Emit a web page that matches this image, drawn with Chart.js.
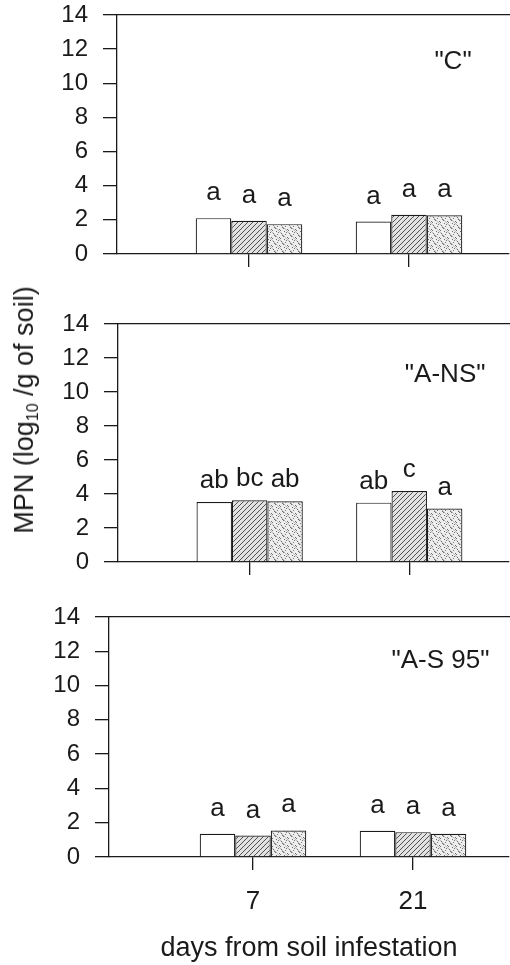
<!DOCTYPE html>
<html><head><meta charset="utf-8">
<script src="https://cdn.jsdelivr.net/npm/chart.js@4.4.1/dist/chart.umd.min.js"></script>
<style>
html,body{margin:0;padding:0;background:#fff;width:510px;height:965px;overflow:hidden}
.p{position:absolute;left:0;width:510px}
#ytitle{position:absolute;left:26px;top:410px;transform:translate(-50%,-50%) rotate(-90deg);
  white-space:nowrap;font-family:"Liberation Sans",Arial,sans-serif;font-size:27px;color:#1a1a1a;line-height:1}
#ytitle sub{font-size:16px;vertical-align:-5px}
</style></head><body>
<div class="p" style="top:0;height:300px"><canvas id="c1"></canvas></div>
<div class="p" style="top:300px;height:300px"><canvas id="c2"></canvas></div>
<div class="p" style="top:600px;height:365px"><canvas id="c3"></canvas></div>
<div id="ytitle">MPN (log<sub>10</sub> /g of soil)</div>
<script>
// ---- data ----
const days = [7, 21];
const yTicks = [0, 2, 4, 6, 8, 10, 12, 14];
const panelNames = ['"C"', '"A-NS"', '"A-S 95"'];
// panel "C"
const cOpen  = [2.1, 1.9];
const cHatch = [1.95, 2.3];
const cDot   = [1.75, 2.27];
const cOpenL = ['a', 'a'], cHatchL = ['a', 'a'], cDotL = ['a', 'a'];
// panel "A-NS"
const nsOpen  = [3.53, 3.49];
const nsHatch = [3.63, 4.18];
const nsDot   = [3.57, 3.14];
const nsOpenL = ['ab', 'ab'], nsHatchL = ['bc', 'c'], nsDotL = ['ab', 'a'];
// panel "A-S 95"
const sOpen  = [1.35, 1.53];
const sHatch = [1.25, 1.45];
const sDot   = [1.55, 1.35];
const sOpenL = ['a', 'a'], sHatchL = ['a', 'a'], sDotL = ['a', 'a'];

// ---- styles ----
const FONT = '"Liberation Sans", Arial, sans-serif';
const INK = '#1a1a1a';

function hatchPattern() {
  const c = document.createElement('canvas'); c.width = 5; c.height = 5;
  const g = c.getContext('2d');
  g.fillStyle = '#e2e2e2'; g.fillRect(0, 0, 5, 5);
  g.strokeStyle = '#505050'; g.lineWidth = 1;
  g.beginPath(); g.moveTo(-1, 6); g.lineTo(6, -1); g.moveTo(-1, 1); g.lineTo(1, -1); g.moveTo(4, 6); g.lineTo(6, 4); g.stroke();
  return g.createPattern(c, 'repeat');
}
function dotPattern() {
  const c = document.createElement('canvas'); c.width = 8; c.height = 8;
  const g = c.getContext('2d');
  g.fillStyle = '#eeeeee'; g.fillRect(0, 0, 8, 8);
  g.fillStyle = '#707070';
  [[1,1],[5,2],[3,4],[7,5],[0,6],[4,7],[6,0],[2,3]].forEach(p => g.fillRect(p[0], p[1], 1, 1));
  g.strokeStyle = 'rgba(90,90,90,0.45)'; g.lineWidth = 0.8;
  g.beginPath(); g.moveTo(0, 0); g.lineTo(8, 8); g.stroke();
  return g.createPattern(c, 'repeat');
}

const textPlugin = {
  id: 'panelText',
  afterDatasetsDraw(chart, args, opts) {
    const ctx = chart.ctx;
    ctx.save();
    ctx.fillStyle = INK;
    ctx.textAlign = 'center';
    ctx.textBaseline = 'alphabetic';
    ctx.font = '26px ' + FONT;
    chart.data.datasets.forEach((ds, i) => {
      chart.getDatasetMeta(i).data.forEach((bar, j) => {
        ctx.fillText(ds.letters[j], bar.x, bar.y - opts.gap);
      });
    });
    ctx.font = '26px ' + FONT;
    ctx.textBaseline = 'middle';
    const xs = chart.scales.x, ys = chart.scales.y;
    ctx.fillText(opts.name, xs.getPixelForValue(opts.nameX), ys.getPixelForValue(opts.nameY));
    ctx.restore();
  }
};

function makePanel(id, open, hatch, dot, openL, hatchL, dotL, cfg) {
  const pts = v => days.map((d, i) => ({ x: d, y: v[i] }));
  const common = { borderColor: INK, borderWidth: 1.2, borderSkipped: 'start', barPercentage: 1, categoryPercentage: 0.666 };
  new Chart(document.getElementById(id), {
    type: 'bar',
    data: {
      datasets: [
        Object.assign({ data: pts(open), letters: openL, backgroundColor: '#ffffff' }, common),
        Object.assign({ data: pts(hatch), letters: hatchL, backgroundColor: hatchPattern() }, common),
        Object.assign({ data: pts(dot), letters: dotL, backgroundColor: dotPattern() }, common)
      ]
    },
    options: {
      responsive: true, maintainAspectRatio: false, animation: false,
      layout: { padding: { top: cfg.top, right: 1, left: 0, bottom: 0 } },
      plugins: { legend: { display: false }, tooltip: { enabled: false },
        panelText: { gap: cfg.gap, name: cfg.name, nameX: cfg.nameX, nameY: cfg.nameY } },
      scales: {
        x: {
          type: 'linear', position: 'bottom', min: cfg.xmin, max: cfg.xmax, offset: false,
          afterBuildTicks: s => { s.ticks = days.map(v => ({ value: v })); },
          afterFit: s => { s.height = cfg.xh; s.paddingLeft = 0; s.paddingRight = 0; },
          grid: { offset: false, drawOnChartArea: false, drawTicks: true, tickLength: 13, color: INK, lineWidth: 1.3 },
          border: { display: true, color: INK, width: 1.3 },
          ticks: { display: cfg.showX, color: INK, font: { family: FONT, size: 26 }, padding: 16,
                   callback: v => String(v) },
          title: { display: cfg.showX, text: 'days from soil infestation', color: INK,
                   font: { family: FONT, size: 27 }, padding: { top: 16, bottom: 0 } }
        },
        xTop: {
          type: 'linear', position: 'top', min: 0, max: 1, offset: false,
          afterFit: s => { s.height = 0; },
          grid: { offset: false, drawOnChartArea: false, drawTicks: false },
          border: { display: true, color: INK, width: 1.3 },
          ticks: { display: false }
        },
        y: {
          min: 0, max: 14,
          afterBuildTicks: s => { s.ticks = yTicks.map(v => ({ value: v })); },
          afterFit: s => { s.width = cfg.yw; s.paddingTop = 0; s.paddingBottom = 0; },
          grid: { drawOnChartArea: false, drawTicks: true, tickLength: 14, color: INK, lineWidth: 1.3 },
          border: { display: true, color: INK, width: 1.3 },
          ticks: { color: INK, font: { family: FONT, size: 24 }, padding: 15 }
        }
      }
    },
    plugins: [textPlugin]
  });
}

makePanel('c1', cOpen, cHatch, cDot, cOpenL, cHatchL, cDotL,
  { top: 15, xh: 46, yw: 117, xmin: -4.55, xmax: 29.75, gap: 18, showX: false,
    name: panelNames[0], nameX: 24.85, nameY: 11.25 });
makePanel('c2', nsOpen, nsHatch, nsDot, nsOpenL, nsHatchL, nsDotL,
  { top: 24, xh: 38, yw: 118, xmin: -4.55, xmax: 29.75, gap: 14, showX: false,
    name: panelNames[1], nameX: 24.15, nameY: 11.0 });
makePanel('c3', sOpen, sHatch, sDot, sOpenL, sHatchL, sDotL,
  { top: 17, xh: 108, yw: 109, xmin: -5.6, xmax: 29.4, gap: 18, showX: true,
    name: panelNames[2], nameX: 23.4, nameY: 11.47 });
</script>
</body></html>
